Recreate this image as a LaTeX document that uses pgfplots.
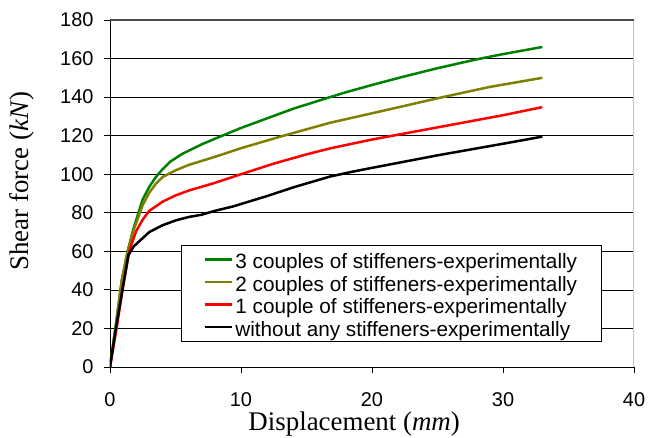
\documentclass[border=0pt]{standalone}
\usepackage{fontspec}
\setmainfont{Liberation Serif}
\newfontfamily\arial{Liberation Sans}
\usepackage{pgfplots}
\pgfplotsset{compat=1.18}
\definecolor{cthree}{RGB}{0,128,0}
\definecolor{ctwo}{RGB}{128,128,0}
\definecolor{cone}{RGB}{255,0,0}
\begin{document}
\begin{tikzpicture}
\useasboundingbox (-110bp,-71bp) rectangle (538bp,367bp);
\begin{axis}[
  at={(0,0)}, anchor=south west,
  scale only axis, width=524bp, height=347bp,
  xmin=0, xmax=40, ymin=0, ymax=180,
  xtick={0,10,...,40}, ytick={0,20,...,180},
  axis x line=bottom, axis y line=left,
  axis line style={black, line width=0.8bp, -},
  tick align=outside, major tick length=6bp,
  tick style={black, line width=0.8bp},
  ymajorgrids, grid style={black, line width=0.6bp},
  /pgf/number format/assume math mode=true,
  tick label style={font=\arial\fontsize{20}{24}\selectfont},
  xticklabel style={yshift=-16bp},
  yticklabel style={xshift=-7bp},
  label style={font=\fontsize{27}{30}\selectfont},
  xlabel={Displacement (\textit{mm})},
  ylabel={Shear force (\textit{kN})},
  xlabel style={at={(axis description cs:0.466,-0.164)}, anchor=center},
  ylabel style={at={(axis description cs:-0.168,0.536)}, anchor=center, rotate=0},
  legend style={at={(axis cs:5.42,63.3)}, anchor=north west,
    draw=black, line width=0.8bp, fill=white,
    font=\arial\fontsize{20.8}{22}\selectfont,
    inner xsep=22bp, inner ysep=3bp,
    cells={anchor=west},
    nodes={inner ysep=1bp, inner xsep=2.5bp, text height=19.5bp, text depth=1bp}},
  legend image code/.code={\draw[#1] (0bp,0bp) -- (27bp,0bp);},
  every axis plot/.append style={line width=2.5bp, line join=round},
]
\addplot[cthree] coordinates {
  (0,0) (0.45,22) (0.9,45) (1.35,60) (1.8,72) (2.5,87) (3,93.5) (3.5,98.5)
  (4,102.5) (4.6,106.5) (5.5,110.5) (7,115.5) (8.4,119.5) (10,124) (12,129)
  (14,134) (16.8,140) (18,142.5) (20,146.3) (22.4,150.6) (25,155) (28,159.6)
  (30,162.3) (33,166)
};
\addlegendentry{3 couples of stiffeners-experimentally}
\addplot[ctwo] coordinates {
  (0,0) (0.45,22) (0.9,45) (1.35,60) (1.8,71) (2.5,84) (3,90.5) (3.5,95)
  (4,98.5) (5,102) (6,104.8) (8,109) (10,113.5) (13,119.5) (16.8,126.7)
  (21.1,133.3) (25.4,140) (29,145.3) (33,150)
};
\addlegendentry{2 couples of stiffeners-experimentally}
\addplot[cone] coordinates {
  (0,0) (0.5,20) (1,42) (1.5,61) (2,70.5) (2.5,76.5) (3,81) (4,85.7) (5,89)
  (6,91.5) (8,95.5) (10,100) (12.5,105.5) (15,110.3) (16.8,113.4) (20,118)
  (25,124.3) (30,130.6) (33,134.8)
};
\addlegendentry{1 couple of stiffeners-experimentally}
\addplot[black] coordinates {
  (0,0) (0.4,18) (0.9,38) (1.4,58) (1.8,62.5) (2.2,65) (3,70) (4,73.5) (5,76)
  (6,77.8) (7,79) (8,81) (9.4,83.3) (12,88.7) (14,93.2) (16.8,98.8)
  (18.5,101.3) (20,103.3) (25,109.8) (30,115.8) (33,119.5)
};
\addlegendentry{without any stiffeners-experimentally}
\draw[gray!45, line width=2bp] (rel axis cs:1,0) -- (rel axis cs:1,1);
\draw[gray!60!black, line width=1.2bp] (rel axis cs:0,1) -- (rel axis cs:1,1);
\end{axis}
\end{tikzpicture}
\end{document}
